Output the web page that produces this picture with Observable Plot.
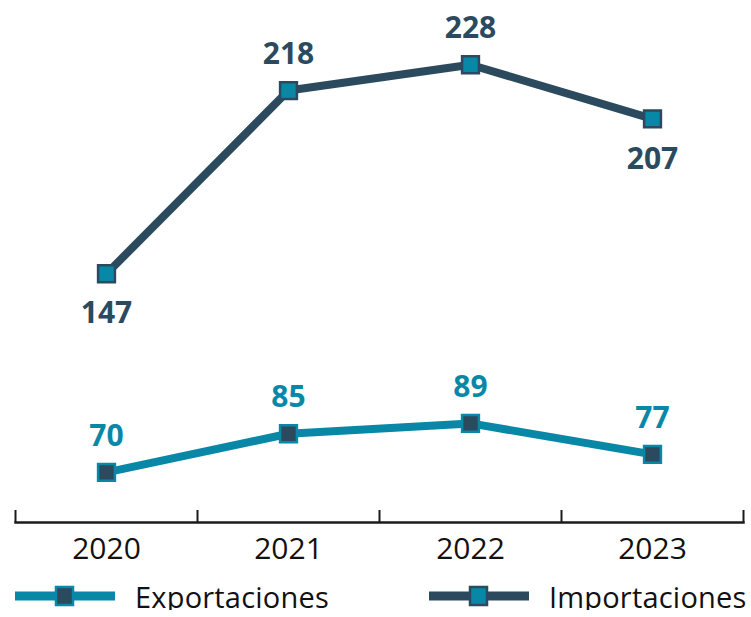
<!DOCTYPE html>
<html>
<head>
<meta charset="utf-8">
<script src="https://cdn.jsdelivr.net/npm/d3@7"></script>
<script src="https://cdn.jsdelivr.net/npm/@observablehq/plot@0.6"></script>
<style>
  body { margin: 0; background: #fff; font-family: "Open Sans", sans-serif; overflow: hidden; }
  #legend { display: flex; align-items: center; height: 28px; margin-top: 2px; font-size: 29px; line-height: 1; color: #111; white-space: nowrap; }
  .item { display: flex; align-items: center; }
  .item svg { display: block; }
  .item span { display: block; line-height: 1; letter-spacing: 0.2px; }
</style>
</head>
<body>
<div id="chart"></div>
<div id="legend"></div>
<script>
const years = [2020, 2021, 2022, 2023];
const exportaciones = [70, 85, 89, 77];
const importaciones = [147, 218, 228, 207];
const seriesNames = ["Exportaciones", "Importaciones"];

const DARK = "#2c4a5e";
const TEAL = "#0888a6";

const exp = years.map((y, i) => ({year: y, value: exportaciones[i]}));
const imp = years.map((y, i) => ({year: y, value: importaciones[i]}));
const bounds = [years[0] - 0.5, ...years.map(y => y + 0.5)];

const chart = Plot.plot({
  width: 751,
  height: 580,
  marginTop: 0,
  marginLeft: 15,
  marginRight: 8,
  marginBottom: 58,
  x: {domain: [years[0] - 0.5, years[years.length - 1] + 0.5], label: null},
  y: {domain: [50.6, 252.9], axis: null},
  style: {fontFamily: "Open Sans, sans-serif"},
  marks: [
    Plot.frame({anchor: "bottom", stroke: "#1a1a1a", strokeWidth: 2.5}),
    Plot.axisX({ticks: bounds, tickSize: -12, text: null, label: null, stroke: "#1a1a1a", strokeWidth: 2}),
    Plot.axisX({ticks: years, tickSize: 0, tickPadding: 15, tickFormat: d => String(d), fontSize: 30, fill: "#111", label: null}),
    Plot.line(imp, {x: "year", y: "value", stroke: DARK, strokeWidth: 8}),
    Plot.line(exp, {x: "year", y: "value", stroke: TEAL, strokeWidth: 8}),
    Plot.dot(imp, {x: "year", y: "value", symbol: "square", r: 9.5, fill: TEAL, stroke: DARK, strokeWidth: 2.5}),
    Plot.dot(exp, {x: "year", y: "value", symbol: "square", r: 9.5, fill: DARK, stroke: TEAL, strokeWidth: 2.5}),
    Plot.text(imp, {filter: (d, i) => i === 0 || i === years.length - 1, x: "year", y: "value", text: d => String(d.value), dy: 40, fontSize: 30, fontWeight: "bold", fill: DARK}),
    Plot.text(imp, {filter: (d, i) => !(i === 0 || i === years.length - 1), x: "year", y: "value", text: d => String(d.value), dy: -36, fontSize: 30, fontWeight: "bold", fill: DARK}),
    Plot.text(exp, {x: "year", y: "value", text: d => String(d.value), dy: -36, fontSize: 30, fontWeight: "bold", fill: TEAL})
  ]
});
document.getElementById("chart").appendChild(chart);

// Legend
const legend = document.getElementById("legend");
const swatch = (line, box) => `<svg width="100" height="28" viewBox="0 0 100 28">
  <rect x="0" y="9.5" width="100" height="9" fill="${line}"/>
  <rect x="41" y="5" width="17" height="18" fill="${box}" stroke="${line}" stroke-width="2.5"/>
</svg>`;
const items = [
  {name: seriesNames[0], line: TEAL, box: DARK, ml: 15, gap: 20},
  {name: seriesNames[1], line: DARK, box: TEAL, ml: 100, gap: 20}
];
for (const it of items) {
  const d = document.createElement("div");
  d.className = "item";
  d.style.marginLeft = it.ml + "px";
  d.innerHTML = swatch(it.line, it.box) + `<span style="margin-left:${it.gap}px">${it.name}</span>`;
  legend.appendChild(d);
}
</script>
</body>
</html>
